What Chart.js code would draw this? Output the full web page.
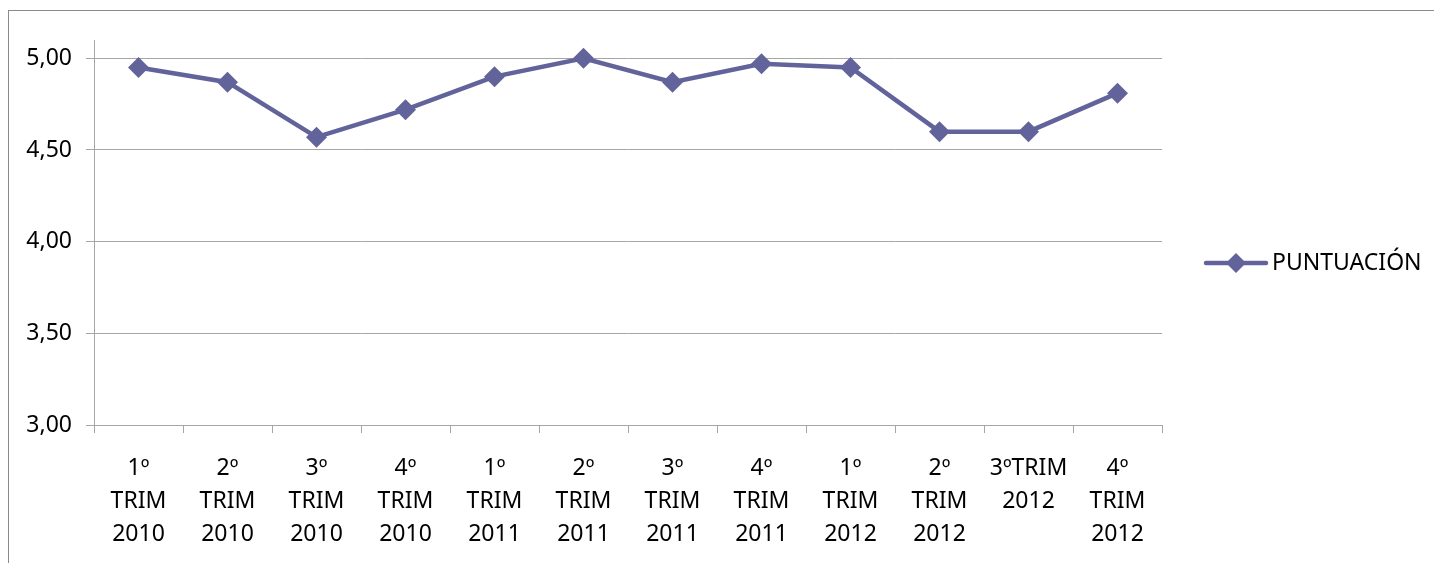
<!DOCTYPE html>
<html>
<head>
<meta charset="utf-8">
<script src="https://cdn.jsdelivr.net/npm/chart.js@4.4.1/dist/chart.umd.min.js"></script>
<style>
    html, body { margin: 0; padding: 0; background: #fff; overflow: hidden; }
    #frame { position: absolute; left: 8px; top: 10px; width: 1440px; height: 600px; border: 1px solid #8a8a8a; }
    #wrap { position: absolute; left: 0; top: 0; width: 1434px; height: 563px; }
</style>
</head>
<body>
<div id="frame"></div>
<div id="wrap"><canvas id="chart"></canvas></div>
<script>
// datos del grafico
const quarters = [
    ['1º', 'TRIM', '2010'], ['2º', 'TRIM', '2010'], ['3º', 'TRIM', '2010'], ['4º', 'TRIM', '2010'],
    ['1º', 'TRIM', '2011'], ['2º', 'TRIM', '2011'], ['3º', 'TRIM', '2011'], ['4º', 'TRIM', '2011'],
    ['1º', 'TRIM', '2012'], ['2º', 'TRIM', '2012'], ['3ºTRIM', '2012'], ['4º', 'TRIM', '2012']
];
const puntuacion = [4.95, 4.87, 4.57, 4.72, 4.90, 5.00, 4.87, 4.97, 4.95, 4.60, 4.60, 4.81];
const yTicks = [3.00, 3.50, 4.00, 4.50, 5.00];
const seriesName = 'PUNTUACIÓN';

const lineColor = '#63639b';
const fontFamily = '"Noto Sans", "Open Sans", sans-serif';

// leyenda a la derecha con linea + rombo
const sideLegend = {
    id: 'sideLegend',
    afterDraw(chart) {
        const ctx = chart.ctx;
        const x0 = chart.chartArea.right + 44;
        const y = 263;
        ctx.save();
        ctx.strokeStyle = lineColor;
        ctx.lineWidth = 4.5;
        ctx.lineCap = 'round';
        ctx.beginPath();
        ctx.moveTo(x0, y);
        ctx.lineTo(x0 + 60, y);
        ctx.stroke();
        ctx.fillStyle = lineColor;
        ctx.beginPath();
        ctx.moveTo(x0 + 30, y - 10);
        ctx.lineTo(x0 + 40, y);
        ctx.lineTo(x0 + 30, y + 10);
        ctx.lineTo(x0 + 20, y);
        ctx.closePath();
        ctx.fill();
        ctx.fillStyle = '#000';
        ctx.font = '23px ' + fontFamily;
        ctx.textBaseline = 'middle';
        ctx.textAlign = 'left';
        ctx.fillText(seriesName, x0 + 66, y);
        ctx.restore();
    }
};

const ctx = document.getElementById('chart').getContext('2d');
new Chart(ctx, {
    type: 'line',
    data: {
        labels: quarters,
        datasets: [{
            label: seriesName,
            data: puntuacion,
            borderColor: lineColor,
            backgroundColor: lineColor,
            borderWidth: 4.5,
            pointStyle: 'rectRot',
            pointRadius: 10.5,
            pointHoverRadius: 10.5,
            pointBorderWidth: 0,
            tension: 0
        }]
    },
    options: {
        responsive: true,
        maintainAspectRatio: false,
        animation: false,
        layout: { padding: { left: 0, top: 40, right: 272, bottom: 0 } },
        plugins: {
            legend: { display: false },
            tooltip: { enabled: false }
        },
        scales: {
            x: {
                offset: true,
                grid: {
                    offset: true,
                    drawOnChartArea: false,
                    drawTicks: true,
                    tickLength: 8,
                    color: '#a6a6a6',
                    lineWidth: 1
                },
                border: { color: '#a6a6a6', width: 1 },
                ticks: {
                    color: '#000',
                    padding: 19,
                    maxRotation: 0,
                    autoSkip: false,
                    font: { family: fontFamily, size: 23, lineHeight: 1.435 }
                },
                afterFit(scale) { scale.height = 138; }
            },
            y: {
                min: 3,
                max: 5.1,
                afterBuildTicks(scale) {
                    scale.ticks = yTicks.map(v => ({ value: v }));
                },
                grid: {
                    color: '#a6a6a6',
                    lineWidth: 1,
                    drawTicks: true,
                    tickLength: 8
                },
                border: { color: '#a6a6a6', width: 1 },
                ticks: {
                    color: '#000',
                    padding: 14,
                    font: { family: fontFamily, size: 23 },
                    callback: (v) => Number(v).toFixed(2).replace('.', ',')
                },
                afterFit(scale) { scale.width = 94; }
            }
        }
    },
    plugins: [sideLegend]
});
</script>
</body>
</html>
